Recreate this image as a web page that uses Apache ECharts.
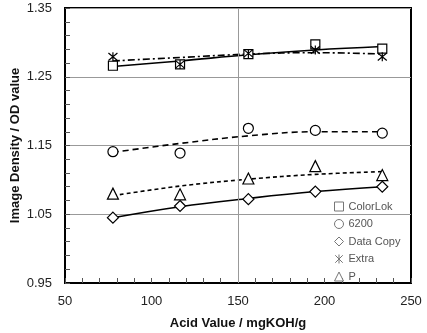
<!DOCTYPE html>
<html>
<head>
<meta charset="utf-8">
<script src="https://cdn.jsdelivr.net/npm/echarts@6/dist/echarts.min.js"></script>
<style>
  html, body { margin: 0; padding: 0; background: #fff; }
  #chart { width: 427px; height: 333px; }
</style>
</head>
<body>
<div id="chart"></div>
<script>
// acid values of the five toners
const acidValues = [77.7, 116.5, 156, 194.7, 233.4];

// measured image density
const colorLok = [1.266, 1.268, 1.283, 1.297, 1.291];
const hp6200 = [1.141, 1.139, 1.175, 1.172, 1.168];
const dataCopy = [1.045, 1.062, 1.072, 1.083, 1.090];
const extra = [1.279, 1.268, 1.284, 1.289, 1.279];
const pPaper = [1.080, 1.079, 1.102, 1.120, 1.107];

// trend lines at the same acid values
const colorLokTrend = [1.265, 1.273, 1.282, 1.289, 1.294];
const hp6200Trend = [1.140, 1.153, 1.164, 1.170, 1.170];
const dataCopyTrend = [1.045, 1.061, 1.073, 1.083, 1.090];
const extraTrend = [1.273, 1.278, 1.283, 1.285, 1.283];
const pTrend = [1.077, 1.091, 1.101, 1.108, 1.112];

const xTicks = { min: 50, max: 250, step: 50 };
const yTicks = { min: 0.95, max: 1.35, step: 0.1 };

const pair = (ys) => acidValues.map((x, i) => [x, ys[i]]);

const asterisk = "path://M-1,-1L1,1M-1,1L1,-1M0,-1.2L0,1.2";
const FONT = "Liberation Sans";

const markers = [
  { name: "ColorLok", data: colorLok, symbol: "rect", size: 9 },
  { name: "6200", data: hp6200, symbol: "circle", size: 10 },
  { name: "Data Copy", data: dataCopy, symbol: "diamond", size: 11 },
  { name: "Extra", data: extra, symbol: asterisk, size: 9 },
  { name: "P", data: pPaper, symbol: "triangle", size: 11 },
];

const trends = [
  { data: colorLokTrend, type: "solid" },
  { data: hp6200Trend, type: [6, 4] },
  { data: dataCopyTrend, type: "solid" },
  { data: extraTrend, type: [7, 3, 2, 3] },
  { data: pTrend, type: [4, 3] },
];

let series = [];
trends.forEach((t, i) => {
  series.push({
    type: "line",
    data: pair(t.data),
    smooth: 0.4,
    symbol: "none",
    silent: true,
    z: 2,
    lineStyle: { color: "#000", width: 1.6, type: t.type },
    markLine: i === 0 ? {
      silent: true,
      symbol: "none",
      label: { show: false },
      lineStyle: { color: "#999", width: 1, type: "solid" },
      data: [{ xAxis: 150 }],
    } : undefined,
  });
});
markers.forEach((m) => {
  series.push({
    name: m.name,
    type: "scatter",
    data: pair(m.data),
    symbol: m.symbol,
    symbolSize: m.size,
    z: 3,
    itemStyle: {
      color: "#fff",
      borderColor: "#000",
      borderWidth: 1.2,
      opacity: 1,
    },
  });
});

const myChart = echarts.init(document.getElementById("chart"));
const option = {
  animation: false,
  backgroundColor: "#fff",
  grid: {
    left: 65,
    right: 16,
    top: 8,
    bottom: 50,
    outerBoundsMode: "none",
    show: true,
    borderColor: "#000",
    borderWidth: 2,
  },
  legend: {
    orient: "vertical",
    left: 329,
    top: 196,
    itemWidth: 9,
    itemHeight: 9,
    itemGap: 6.5,
    data: markers.map((m) => m.name),
    textStyle: { fontFamily: FONT, fontSize: 11, color: "#555" },
    itemStyle: { color: "#fff", borderColor: "#777", borderWidth: 1 },
  },
  xAxis: {
    type: "value",
    min: xTicks.min,
    max: xTicks.max,
    interval: xTicks.step,
    name: "Acid Value / mgKOH/g",
    nameLocation: "middle",
    nameGap: 34,
    nameMoveOverlap: false,
    nameTextStyle: { fontFamily: FONT, fontSize: 13, fontWeight: "bold", color: "#111" },
    axisLine: { show: true, lineStyle: { color: "#000", width: 2 } },
    axisTick: { show: true, inside: true, length: 5, lineStyle: { color: "#555" } },
    minorTick: { show: true, splitNumber: 5, length: 5, lineStyle: { color: "#555" } },
    axisLabel: { margin: 12, fontFamily: FONT, fontSize: 13, color: "#222" },
    splitLine: { show: false },
  },
  yAxis: {
    type: "value",
    min: yTicks.min,
    max: yTicks.max,
    interval: yTicks.step,
    name: "Image Density / OD value",
    nameLocation: "middle",
    nameGap: 43,
    nameMoveOverlap: false,
    nameTextStyle: { fontFamily: FONT, fontSize: 13, fontWeight: "bold", color: "#111" },
    axisLine: { show: true, lineStyle: { color: "#000", width: 2 } },
    axisTick: { show: true, inside: true, length: 5, lineStyle: { color: "#555" } },
    minorTick: { show: true, splitNumber: 5, length: 5, lineStyle: { color: "#555" } },
    axisLabel: {
      margin: 13,
      fontFamily: FONT,
      fontSize: 13,
      color: "#222",
      formatter: (v) => v.toFixed(2),
    },
    splitLine: { show: true, lineStyle: { color: "#999", width: 1 } },
  },
  series: series,
};
option && myChart.setOption(option);
</script>
</body>
</html>
